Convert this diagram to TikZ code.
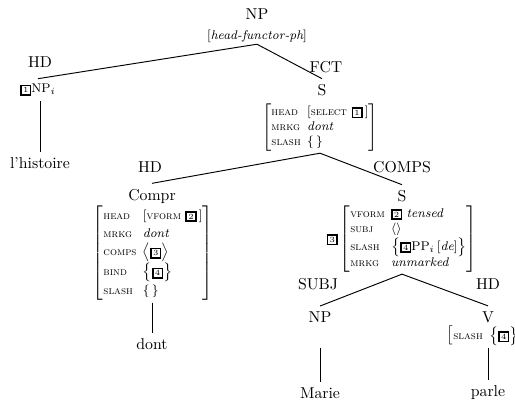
\documentclass[tikz,border=0pt]{standalone}
\usepackage{tikz}
\usetikzlibrary{positioning}

\newcommand{\feat}[1]{{\scriptsize\textsc{#1}}}
\newcommand{\tagbox}[1]{\mbox{\setlength{\fboxsep}{0.8pt}\setlength{\fboxrule}{1pt}\fbox{\tiny #1}}}
\newcommand{\avm}[1]{$\left[\begin{tabular}{@{}l@{\hspace{4pt}}l@{}}#1\end{tabular}\right]$}

\begin{document}
\begin{tikzpicture}[
  x=0.633pt, y=-0.633pt,
  cat/.style={font=\normalsize},
  elabel/.style={font=\normalsize},
  avmbox/.style={font=\footnotesize, inner sep=1pt},
  word/.style={font=\normalsize},
  branch/.style={line width=0.6pt}
]
\useasboundingbox (0,0) rectangle (515,406);

% ---------- Mother: NP ----------
\node[cat] (np) at (257,14) {NP};
\node[avmbox] (hfph) at (257,36) {$\left[\mbox{\itshape head-functor-ph}\right]$};

% ---------- HD: l'histoire ----------
\node[elabel] (hd1) at (40,62) {HD};
\node[cat, font=\footnotesize] (npi) at (38,90) {\tagbox{1}NP$_i$};
\node[word] (hist) at (40,163) {l'histoire};
\draw[branch] (hfph.south) -- (npi.north);
\draw[branch] (hist |- npi.south) -- (hist.north);

% ---------- FCT: S ----------
\node[elabel] (fct) at (326,67) {FCT};
\node[cat] (s1) at (322,90) {S};
\node[avmbox, anchor=north] (s1avm) at (320,102) {\avm{%
  \feat{head} & $\left[\mbox{\feat{select}\ \tagbox{1}}\,\right]$\\
  \feat{mrkg} & \textit{dont}\\
  \feat{slash} & $\{\,\}$}};
\draw[branch] (hfph.south) -- (s1.north);

% ---------- HD: Compr ----------
\node[elabel] (hd2) at (150,167) {HD};
\node[cat] (compr) at (152,196) {Compr};
\node[avmbox, anchor=north] (compravm) at (153,204) {\renewcommand{\arraystretch}{1.2}\avm{%
  \feat{head} & $\left[\mbox{\feat{vform}\ \tagbox{2}}\,\right]$\\
  \feat{mrkg} & \textit{dont}\\
  \feat{comps} & $\bigl\langle\tagbox{3}\bigr\rangle$\\
  \feat{bind} & $\bigl\{\tagbox{4}\bigr\}$\\
  \feat{slash} & $\{\,\}$}};
\node[word] (dont) at (152,344) {dont};
\draw[branch] (s1avm.south) -- (compr.north);
\draw[branch] (dont |- compravm.south) -- (dont.north);

% ---------- COMPS: S ----------
\node[elabel] (comps) at (402,167) {COMPS};
\node[cat] (s2) at (402,196) {S};
\node[avmbox, anchor=north] (s2avm) at (402,204) {\tagbox{3}\,\avm{%
  \feat{vform} & \tagbox{2} \textit{tensed}\\
  \feat{subj} & $\langle\rangle$\\
  \feat{slash} & $\bigl\{\tagbox{4}\mbox{PP}_i\left[\mbox{\itshape de}\right]\bigr\}$\\
  \feat{mrkg} & \textit{unmarked}}};
\draw[branch] (s1avm.south) -- (s2.north);

% ---------- SUBJ: NP ----------
\node[elabel] (subj) at (318,284) {SUBJ};
\node[cat] (np3) at (320,317) {NP};
\node[word] (marie) at (320,393) {Marie};
\draw[branch] (s2avm.south) -- (np3.north);

% ---------- HD: V ----------
\node[elabel] (hd3) at (488,284) {HD};
\node[cat] (v) at (488,317) {V};
\node[avmbox, anchor=north] (vavm) at (486,324) {\avm{\feat{slash} & $\bigl\{\tagbox{4}\bigr\}$}};
\node[word] (parle) at (488,393) {parle};
\draw[branch] (s2avm.south) -- (v.north);
\coordinate (np3b) at (marie |- vavm.south);
\draw[branch] (np3b) -- (marie.north);
\draw[branch] (parle |- vavm.south) -- (parle.north);

\end{tikzpicture}
\end{document}
